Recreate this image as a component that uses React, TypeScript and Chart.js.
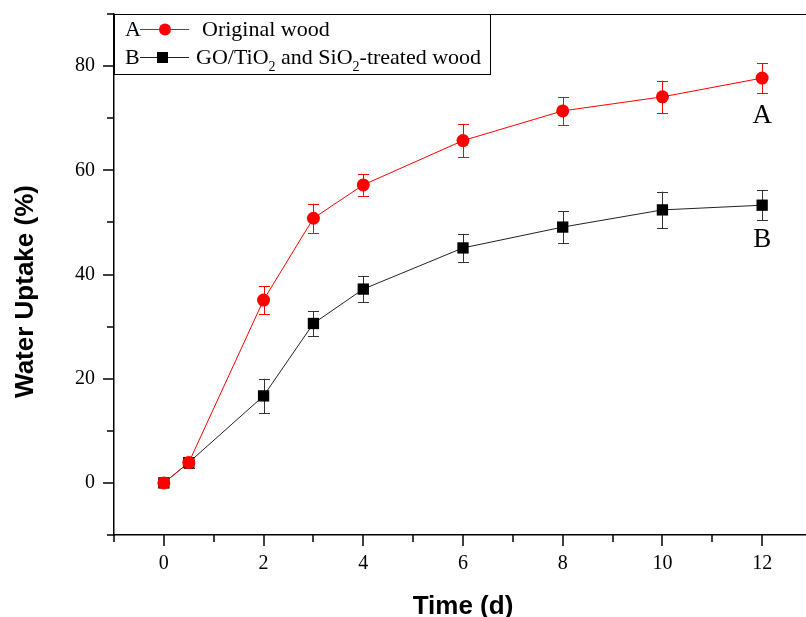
import React, { useEffect, useRef } from 'react';
import { Chart, registerables } from 'chart.js';

Chart.register(...registerables);

// ---- data ----
const days = [0, 0.5, 2, 3, 4, 6, 8, 10, 12];
const originalWood = [0, 3.9, 35.1, 50.8, 57.2, 65.7, 71.4, 74.1, 77.7];
const originalWoodErr = [0, 1.0, 2.7, 2.8, 2.1, 3.2, 2.7, 3.1, 2.9];
const treatedWood = [0, 3.9, 16.7, 30.6, 37.2, 45.1, 49.1, 52.4, 53.3];
const treatedWoodErr = [0, 1.0, 3.3, 2.4, 2.5, 2.7, 3.1, 3.5, 2.9];
const seriesNames = ['Original wood', 'GO/TiO₂ and SiO₂-treated wood'];
const seriesTags = ['A', 'B'];
const xMajorTicks = [0, 2, 4, 6, 8, 10, 12];
const xMinorTicks = [-1, 1, 3, 5, 7, 9, 11, 13];
const yMajorTicks = [0, 20, 40, 60, 80];
const yMinorTicks = [-10, 10, 30, 50, 70, 90];
const xTitle = 'Time (d)';
const yTitle = 'Water Uptake (%)';

const RED = '#ff0000';
const BLACK = '#000000';
const SERIF = '"Liberation Serif", "Times New Roman", serif';
const SANS = '"Liberation Sans", Arial, sans-serif';

function drawRichText(ctx: CanvasRenderingContext2D, text: string, x: number, y: number, size: number) {
  // draws text where '₂' is rendered as a subscript "2"
  const parts = text.split('₂');
  let cx = x;
  parts.forEach((p, i) => {
    ctx.font = `${size}px ${SERIF}`;
    ctx.fillText(p, cx, y);
    cx += ctx.measureText(p).width;
    if (i < parts.length - 1) {
      ctx.font = `${Math.round(size * 0.62)}px ${SERIF}`;
      ctx.fillText('2', cx, y + size * 0.34);
      cx += ctx.measureText('2').width;
    }
  });
}

const errorBars = {
  id: 'errorBars',
  beforeDatasetsDraw(chart: any) {
    const { ctx } = chart;
    const xs = chart.scales.x;
    const ys = chart.scales.y;
    chart.data.datasets.forEach((ds: any) => {
      ctx.save();
      ctx.strokeStyle = ds.errorColor;
      ctx.lineWidth = 1;
      ds.data.forEach((p: any, j: number) => {
        const e = ds.errors[j];
        if (!e) return;
        const px = Math.round(xs.getPixelForValue(p.x)) + 0.5;
        const top = ys.getPixelForValue(p.y + e);
        const bot = ys.getPixelForValue(p.y - e);
        ctx.beginPath();
        ctx.moveTo(px, top);
        ctx.lineTo(px, bot);
        ctx.moveTo(px - 5.5, Math.round(top) + 0.5);
        ctx.lineTo(px + 5.5, Math.round(top) + 0.5);
        ctx.moveTo(px - 5.5, Math.round(bot) + 0.5);
        ctx.lineTo(px + 5.5, Math.round(bot) + 0.5);
        ctx.stroke();
      });
      ctx.restore();
    });
  },
};

const decorations = {
  id: 'decorations',
  afterDraw(chart: any) {
    const { ctx, chartArea } = chart;
    const xs = chart.scales.x;
    const ys = chart.scales.y;
    ctx.save();
    ctx.strokeStyle = BLACK;
    ctx.lineWidth = 1.5;
    // ticks, outward
    const bottom = chartArea.bottom;
    const left = chartArea.left;
    ctx.beginPath();
    xMajorTicks.forEach((v) => {
      const px = Math.round(xs.getPixelForValue(v));
      ctx.moveTo(px, bottom);
      ctx.lineTo(px, bottom + 11);
    });
    xMinorTicks.forEach((v) => {
      const px = Math.round(xs.getPixelForValue(v));
      ctx.moveTo(px, bottom);
      ctx.lineTo(px, bottom + 7);
    });
    yMajorTicks.forEach((v) => {
      const py = Math.round(ys.getPixelForValue(v));
      ctx.moveTo(left, py);
      ctx.lineTo(left - 11, py);
    });
    yMinorTicks.forEach((v) => {
      const py = Math.round(ys.getPixelForValue(v));
      ctx.moveTo(left, py);
      ctx.lineTo(left - 7, py);
    });
    ctx.stroke();

    // top frame line
    ctx.lineWidth = 1;
    ctx.beginPath();
    ctx.moveTo(left, Math.round(chartArea.top) + 0.5);
    ctx.lineTo(chart.width, Math.round(chartArea.top) + 0.5);
    ctx.stroke();

    // axis titles
    ctx.fillStyle = BLACK;
    ctx.font = `bold 26px ${SANS}`;
    ctx.textAlign = 'center';
    ctx.textBaseline = 'alphabetic';
    ctx.fillText(xTitle, (chartArea.left + chartArea.right) / 2, 614);
    ctx.save();
    ctx.translate(33, 291.5);
    ctx.rotate(-Math.PI / 2);
    ctx.fillText(yTitle, 0, 0);
    ctx.restore();

    // end tags A / B
    ctx.font = `27px ${SERIF}`;
    ctx.textAlign = 'center';
    const ends = [
      { ds: 0, dy: 45 },
      { ds: 1, dy: 42 },
    ];
    ends.forEach(({ ds, dy }) => {
      const data = chart.data.datasets[ds].data;
      const last = data[data.length - 1];
      const px = xs.getPixelForValue(last.x);
      const py = ys.getPixelForValue(last.y);
      ctx.fillText(seriesTags[ds], px, py + dy);
    });

    // legend box
    const bx = left + 0.5;
    const by = Math.round(chartArea.top) + 0.5;
    ctx.lineWidth = 1;
    ctx.strokeRect(bx, by, 376, 60);
    ctx.textAlign = 'left';
    const rows = [
      { y: 36, color: RED, style: 'circle', textX: 202 },
      { y: 64, color: BLACK, style: 'rect', textX: 196 },
    ];
    rows.forEach((r, i) => {
      const cy = r.y - 7;
      ctx.fillStyle = BLACK;
      ctx.font = `22px ${SERIF}`;
      ctx.fillText(seriesTags[i], 125, r.y);
      ctx.strokeStyle = r.color === RED ? RED : '#222';
      ctx.beginPath();
      ctx.moveTo(140, cy + 0.5);
      ctx.lineTo(189, cy + 0.5);
      ctx.stroke();
      ctx.fillStyle = r.color;
      if (r.style === 'circle') {
        ctx.beginPath();
        ctx.arc(165, cy + 0.5, 6, 0, Math.PI * 2);
        ctx.fill();
      } else {
        ctx.fillRect(157, cy - 5, 11, 11);
      }
      ctx.fillStyle = BLACK;
      drawRichText(ctx, seriesNames[i], r.textX, r.y, 22);
    });
    ctx.restore();
  },
};

export default function App() {
  const ref = useRef<HTMLCanvasElement>(null);

  useEffect(() => {
    if (!ref.current) return;
    const chart = new Chart(ref.current, {
      type: 'line',
      data: {
        datasets: [
          {
            label: seriesNames[0],
            data: days.map((d, i) => ({ x: d, y: originalWood[i] })),
            borderColor: RED,
            backgroundColor: RED,
            borderWidth: 1,
            pointStyle: 'circle',
            pointRadius: 6.5,
            pointBorderWidth: 0,
            pointBackgroundColor: RED,
            errors: originalWoodErr,
            errorColor: RED,
          } as any,
          {
            label: seriesNames[1],
            data: days.map((d, i) => ({ x: d, y: treatedWood[i] })),
            borderColor: '#222222',
            backgroundColor: BLACK,
            borderWidth: 1,
            pointStyle: 'rect',
            pointRadius: 8,
            pointBorderWidth: 0,
            pointBackgroundColor: BLACK,
            errors: treatedWoodErr,
            errorColor: '#333333',
          } as any,
        ],
      },
      options: {
        animation: false,
        responsive: false,
        devicePixelRatio: 1,
        layout: { padding: { top: 14, right: 6, left: 0, bottom: 0 } },
        plugins: {
          legend: { display: false },
          tooltip: { enabled: false },
        },
        scales: {
          x: {
            type: 'linear',
            min: -1,
            max: 13,
            afterBuildTicks: (s: any) => {
              s.ticks = xMajorTicks.map((v) => ({ value: v }));
            },
            afterFit: (s: any) => {
              s.height = 82;
              s.paddingLeft = 0;
              s.paddingRight = 0;
            },
            grid: { display: false, drawTicks: false },
            border: { display: true, color: BLACK, width: 1.5 },
            ticks: {
              color: BLACK,
              padding: 17,
              maxRotation: 0,
              font: { family: SERIF, size: 20 },
            },
          },
          y: {
            type: 'linear',
            min: -10,
            max: 90,
            afterBuildTicks: (s: any) => {
              s.ticks = yMajorTicks.map((v) => ({ value: v }));
            },
            afterFit: (s: any) => {
              s.width = 114;
              s.paddingTop = 0;
              s.paddingBottom = 0;
            },
            grid: { display: false, drawTicks: false },
            border: { display: true, color: BLACK, width: 1.5 },
            ticks: {
              color: BLACK,
              padding: 19,
              font: { family: SERIF, size: 20 },
            },
          },
        },
      } as any,
      plugins: [errorBars, decorations],
    });
    return () => chart.destroy();
  }, []);

  return (
    <div
      style={{
        position: 'fixed',
        left: 0,
        top: 0,
        width: 806,
        height: 617,
        overflow: 'hidden',
        background: '#fff',
      }}
    >
      <canvas ref={ref} width={820} height={617} style={{ display: 'block', width: 820, height: 617 }} />
    </div>
  );
}
